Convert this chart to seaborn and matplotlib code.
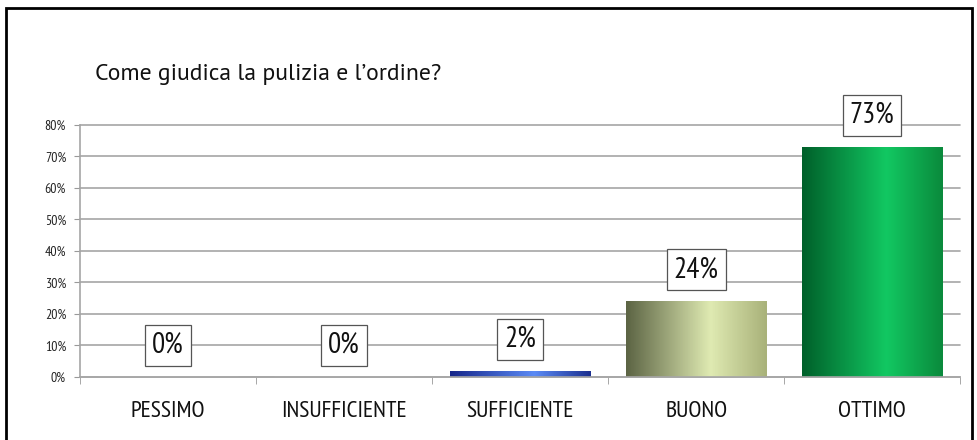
import matplotlib
matplotlib.use('Agg')
from matplotlib import pyplot as plt
from matplotlib.colors import LinearSegmentedColormap
from matplotlib.patches import Rectangle
import seaborn as sns
import numpy as np

sns.set_style('white')
plt.rcParams['font.family'] = ['PT Sans Narrow', 'Roboto Condensed', 'Archivo Narrow', 'DejaVu Sans']

categories = ['PESSIMO', 'INSUFFICIENTE', 'SUFFICIENTE', 'BUONO', 'OTTIMO']
values = [0.0, 0.0, 0.02, 0.24, 0.73]
labels = ['0%', '0%', '2%', '24%', '73%']
title = 'Come giudica la pulizia e l\u2019ordine?'
y_ticks = [0, 0.1, 0.2, 0.3, 0.4, 0.5, 0.6, 0.7, 0.8]

# gradient per bar (left edge -> highlight -> right edge)
gradients = [
    ['#1a2a8a', '#4a7af0', '#1a2a8a'],
    ['#1a2a8a', '#4a7af0', '#1a2a8a'],
    ['#16268a', '#5a8af5', '#1c3090'],
    ['#5c6444', '#dfeab2', '#a9b27a'],
    ['#00602a', '#12c862', '#0a8a3c'],
]

fig = plt.figure(figsize=(9.78, 4.4), dpi=100)
ax = fig.add_axes([0.0818, 0.1432, 0.9, 0.5728])

sns.barplot(x=categories, y=values, color='#888888', width=0.8, ax=ax)

for patch, cols in zip(ax.patches, gradients):
    x0, y0 = patch.get_x(), patch.get_y()
    w, h = patch.get_width(), patch.get_height()
    if h <= 0:
        continue
    cmap = LinearSegmentedColormap.from_list('g', list(zip([0, 0.6, 1], cols)))
    grad = np.linspace(0, 1, 200).reshape(1, -1)
    im = ax.imshow(grad, cmap=cmap, aspect='auto', extent=[x0, x0 + w, y0, y0 + h], zorder=2)
    im.set_clip_path(patch)
    patch.set_facecolor('none')
    patch.set_edgecolor('none')

for i, (v, lab) in enumerate(zip(values, labels)):
    ax.annotate(lab, (i, v), xytext=(0, 13), textcoords='offset points',
                ha='center', va='bottom', fontsize=21, color='#111111', zorder=5,
                bbox=dict(boxstyle='square,pad=0.24', fc='white', ec='#555555', lw=0.9))

ax.set_xlim(-0.5, 4.5)
ax.set_ylim(0, 0.8)
ax.set_yticks(y_ticks)
ax.set_yticklabels(['%d%%' % round(t * 100) for t in y_ticks], fontsize=10, color='#222222')
ax.yaxis.grid(True, color='#a6a6a6', lw=1.2)
for gl in ax.get_ygridlines():
    gl.set_clip_on(False)
ax.set_axisbelow(True)
ax.tick_params(axis='y', length=4, color='#999999', left=True, pad=6)
ax.set_xticks(range(len(categories)))
ax.set_xticklabels(categories, fontsize=17, color='#111111')
ax.set_xticks(np.arange(-0.5, 5, 1), minor=True)
ax.tick_params(axis='x', which='major', length=0, pad=17)
ax.tick_params(axis='x', which='minor', length=5, color='#999999', bottom=True)
ax.set_xlabel('')
ax.set_ylabel('')
for s in ['top', 'right']:
    ax.spines[s].set_visible(False)
for s in ['left', 'bottom']:
    ax.spines[s].set_color('#a6a6a6')
    ax.spines[s].set_linewidth(1.2)

fig.text(0.097, 0.83, title, fontsize=17, color='#111111', ha='left', va='center',
         family=['PT Sans', 'DejaVu Sans'])

# outer frame
fig.patches.append(Rectangle((0.006, -0.05), 0.988, 1.032, transform=fig.transFigure,
                             fill=False, ec='black', lw=2))

fig.savefig('out.png', dpi=100, facecolor='white')
